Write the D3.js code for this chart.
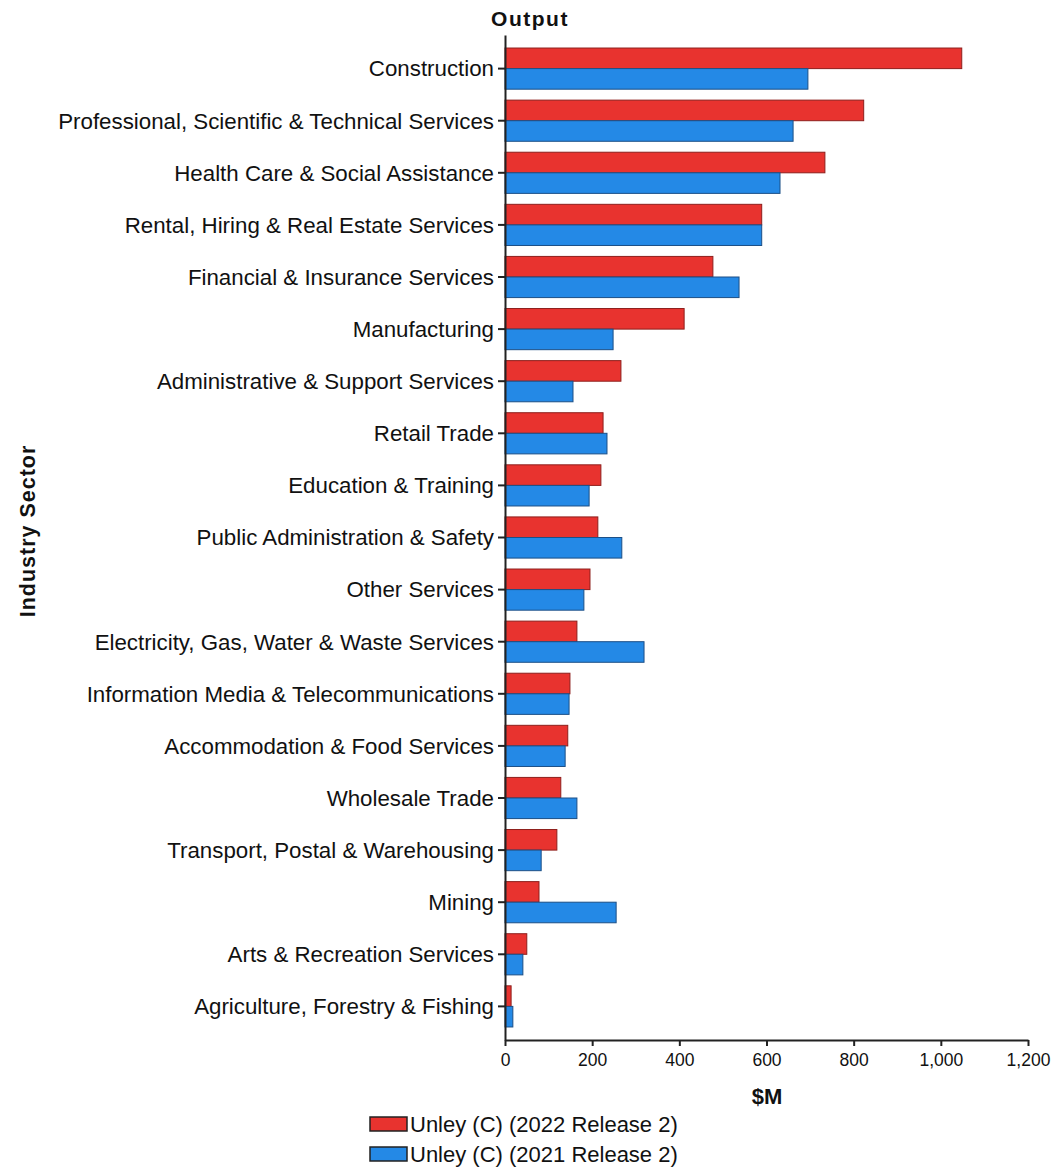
<html>
<head>
    <script src="https://d3js.org/d3.v7.min.js"></script>
    <style>
        body { margin: 0; background: #fff; }
        text { font-family: "Liberation Sans", Arial, sans-serif; fill: #111; }
    </style>
</head>
<body>
<div id="chart"></div>

<script>
    // chart data
    var sectors = [
        "Construction",
        "Professional, Scientific & Technical Services",
        "Health Care & Social Assistance",
        "Rental, Hiring & Real Estate Services",
        "Financial & Insurance Services",
        "Manufacturing",
        "Administrative & Support Services",
        "Retail Trade",
        "Education & Training",
        "Public Administration & Safety",
        "Other Services",
        "Electricity, Gas, Water & Waste Services",
        "Information Media & Telecommunications",
        "Accommodation & Food Services",
        "Wholesale Trade",
        "Transport, Postal & Warehousing",
        "Mining",
        "Arts & Recreation Services",
        "Agriculture, Forestry & Fishing"
    ];
    var release2022 = [1048, 823, 734, 589, 477, 411, 266, 225, 220, 213, 195, 165, 149, 144, 128, 119, 78, 50, 14];
    var release2021 = [695, 661, 631, 589, 537, 248, 156, 234, 193, 268, 181, 319, 147, 138, 165, 83, 255, 41, 18];
    var seriesNames = ["Unley (C) (2022 Release 2)", "Unley (C) (2021 Release 2)"];
    var xTicks = [0, 200, 400, 600, 800, 1000, 1200];

    var svg = d3.select("#chart")
        .append("svg")
        .attr("width", 1056)
        .attr("height", 1169)

    var plotLeft = 505, plotRight = 1028, plotTop = 35, plotBottom = 1040;

    var x = d3.scaleLinear().domain([0, 1200]).range([plotLeft, plotRight]);
    var y = d3.scaleBand().domain(sectors).range([plotTop, plotBottom])
        .paddingInner(0.21).paddingOuter(0.25);
    var half = y.bandwidth() / 2;

    var fills = ["#e8332f", "#2489e6"];
    var strokes = ["#8e1f1c", "#1c4f86"];

    /* bar groups, one per sector */
    var g = svg.selectAll("g.sector")
        .data(sectors)
        .enter()
        .append("g")
        .attr("class", "sector")

    g.append("rect")
        .attr("x", x(0))
        .attr("y", function(d) { return y(d) })
        .attr("width", function(d, i) { return x(release2022[i]) - x(0) })
        .attr("height", half)
        .attr("fill", fills[0])
        .attr("stroke", strokes[0])
        .attr("stroke-width", 1)

    g.append("rect")
        .attr("x", x(0))
        .attr("y", function(d) { return y(d) + half })
        .attr("width", function(d, i) { return x(release2021[i]) - x(0) })
        .attr("height", half)
        .attr("fill", fills[1])
        .attr("stroke", strokes[1])
        .attr("stroke-width", 1)

    /* axes */
    var yAxis = svg.append("g")
        .attr("transform", "translate(" + plotLeft + ",0)")
        .call(d3.axisLeft(y).tickSize(7).tickPadding(4).tickSizeOuter(0))
    yAxis.selectAll("text").style("font-size", "22.3px").attr("dy", "0.35em")
    yAxis.select(".domain").attr("stroke", "#222").attr("stroke-width", 2)
    yAxis.selectAll(".tick line").attr("stroke", "#222").attr("stroke-width", 2)

    var xAxis = svg.append("g")
        .attr("transform", "translate(0," + plotBottom + ")")
        .call(d3.axisBottom(x).tickValues(xTicks).tickSize(6).tickPadding(8)
            .tickSizeOuter(0).tickFormat(d3.format(",")))
    xAxis.selectAll("text").style("font-size", "17.5px")
    xAxis.select(".domain").attr("stroke", "#222").attr("stroke-width", 2)
    xAxis.selectAll(".tick line").attr("stroke", "#222").attr("stroke-width", 2)

    /* titles */
    svg.append("text")
        .attr("x", 530).attr("y", 26)
        .attr("text-anchor", "middle")
        .style("font-size", "21px").style("font-weight", "bold")
        .style("letter-spacing", "1.5px")
        .text("Output")

    svg.append("text")
        .attr("x", 767).attr("y", 1104)
        .attr("text-anchor", "middle")
        .style("font-size", "22px").style("font-weight", "bold")
        .text("$M")

    svg.append("text")
        .attr("transform", "translate(35,531) rotate(-90)")
        .attr("text-anchor", "middle")
        .style("font-size", "21.5px").style("font-weight", "bold")
        .style("letter-spacing", "1px")
        .text("Industry Sector")

    /* legend */
    var legend = svg.selectAll("g.legend")
        .data(seriesNames)
        .enter()
        .append("g")
        .attr("class", "legend")
        .attr("transform", function(d, i) { return "translate(370," + (1117 + i * 30) + ")" })

    legend.append("rect")
        .attr("width", 37).attr("height", 14)
        .attr("fill", function(d, i) { return fills[i] })
        .attr("stroke", "#222").attr("stroke-width", 1.5)

    legend.append("text")
        .attr("x", 40).attr("y", 15)
        .style("font-size", "22px")
        .text(function(d) { return d })
</script>

</body>
</html>
